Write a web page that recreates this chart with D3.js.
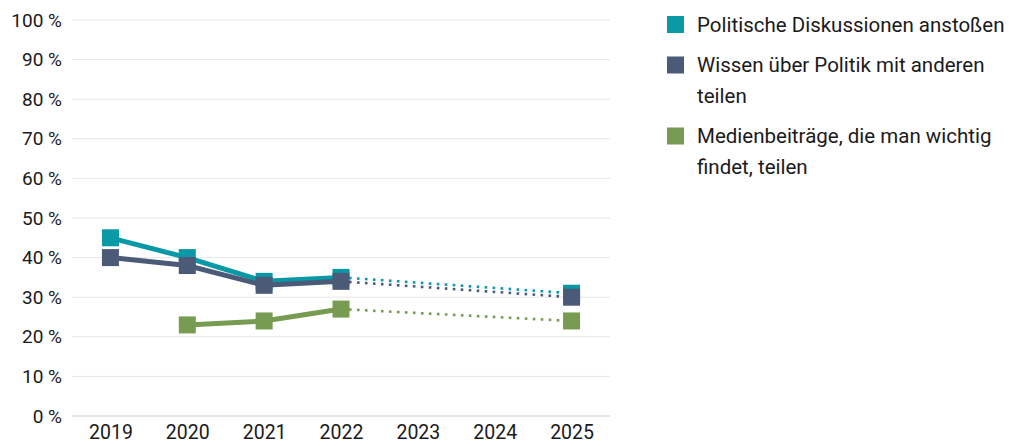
<!DOCTYPE html>
<html lang="de">
<head>
	<meta charset="UTF-8">
	<style>
	body { margin: 0; background: #fff; }
	svg text { font-family: Roboto, sans-serif; font-weight: 400; fill: #1a1a1a; }
	</style>
	<script src="https://d3js.org/d3.v7.min.js"></script>
	<title>Politische Beteiligung</title>
</head>
<body>
	<div id="chart"></div>
	<script>
		// values (percent), null = no survey
		const years = ["2019", "2020", "2021", "2022", "2023", "2024", "2025"];
		const diskussionen = [45, 40, 34, 35, null, null, 31];
		const wissen = [40, 38, 33, 34, null, null, 30];
		const medien = [null, 23, 24, 27, null, null, 24];
		const yTicks = [0, 10, 20, 30, 40, 50, 60, 70, 80, 90, 100];

		const series = [
			{ name: ["Politische Diskussionen anstoßen"], values: diskussionen, color: "#0898a6" },
			{ name: ["Wissen über Politik mit anderen", "teilen"], values: wissen, color: "#4b5b77" },
			{ name: ["Medienbeiträge, die man wichtig", "findet, teilen"], values: medien, color: "#779b50" }
		];

		const width = 1010, height = 446;
		const svg = d3.select("#chart").append("svg")
			.attr("width", width)
			.attr("height", height);

		const x = d3.scalePoint()
			.domain(years)
			.range([72, 610])
			.padding(0.5);

		const y = d3.scaleLinear()
			.domain([0, 100])
			.range([416, 20]);

		// grid lines
		svg.append("g")
			.selectAll("line")
			.data(yTicks)
			.join("line")
			.attr("x1", 72)
			.attr("x2", 610)
			.attr("y1", d => y(d))
			.attr("y2", d => y(d))
			.attr("stroke", d => d === 0 ? "#dcdcdc" : "#e6e6e6")
			.attr("stroke-width", d => d === 0 ? 1.5 : 1);

		// y axis
		const yAxis = svg.append("g")
			.attr("transform", "translate(62,0)")
			.call(d3.axisLeft(y).tickValues(yTicks).tickSize(0).tickPadding(0).tickFormat(d => d + " %"));
		yAxis.select(".domain").remove();
		yAxis.selectAll("text").attr("font-size", 19).attr("dy", "0.32em");

		// x axis
		const xAxis = svg.append("g")
			.attr("transform", "translate(0,425)")
			.call(d3.axisBottom(x).tickSize(0).tickPadding(0));
		xAxis.select(".domain").remove();
		xAxis.selectAll("text").attr("font-size", 19.5).attr("dy", "0.71em");

		const line = d3.line()
			.defined(d => d.v !== null)
			.x(d => x(d.year))
			.y(d => y(d.v));

		series.forEach(s => {
			const pts = years.map((year, i) => ({ year: year, v: s.values[i] }));
			const solid = pts.slice(0, 4);
			const last = pts.filter(d => d.v !== null);
			const dotted = [pts[3], pts[6]];

			const g = svg.append("g");
			g.append("path")
				.attr("d", line(dotted))
				.attr("fill", "none")
				.attr("stroke", s.color)
				.attr("stroke-width", 2.6)
				.attr("stroke-dasharray", "2.6,5.4");
			g.append("path")
				.attr("d", line(solid))
				.attr("fill", "none")
				.attr("stroke", s.color)
				.attr("stroke-width", 5);
			g.selectAll("rect")
				.data(last)
				.join("rect")
				.attr("x", d => x(d.year) - 8.5)
				.attr("y", d => y(d.v) - 8.5)
				.attr("width", 17)
				.attr("height", 17)
				.attr("fill", s.color);
		});

		// legend
		const legendTop = [16, 56.5, 127.5];
		const legend = svg.append("g");
		series.forEach((s, i) => {
			legend.append("rect")
				.attr("x", 667)
				.attr("y", legendTop[i])
				.attr("width", 17)
				.attr("height", 17)
				.attr("fill", s.color);
			legend.append("text")
				.attr("x", 697)
				.attr("y", legendTop[i] + 15.5)
				.attr("font-size", 20.5)
				.selectAll("tspan")
				.data(s.name)
				.join("tspan")
				.attr("x", 697)
				.attr("dy", (d, j) => j === 0 ? 0 : 31)
				.text(d => d);
		});
	</script>
</body>
</html>
